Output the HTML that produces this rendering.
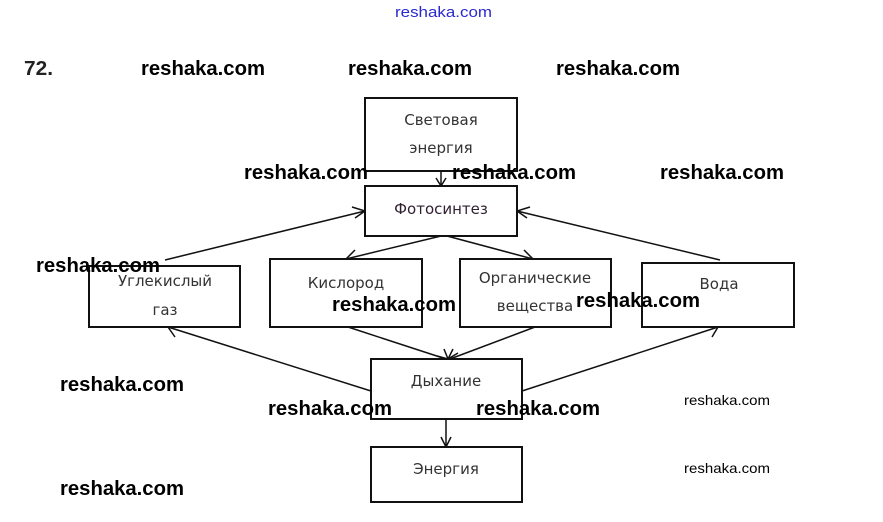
<!DOCTYPE html>
<html><head><meta charset="utf-8"><style>
html,body{margin:0;padding:0;background:#fff;}
svg{display:block;}
.w{font-family:"Liberation Sans",sans-serif;font-weight:bold;font-size:20px;fill:#000;}
.ws{font-family:"Liberation Sans",sans-serif;font-size:14px;fill:#000;}
.l{font-family:"DejaVu Sans","Liberation Sans",sans-serif;font-size:15px;fill:#333;text-anchor:middle;}
rect{fill:#fff;stroke:#111;stroke-width:2;}
line,polyline{stroke:#111;stroke-width:1.5;fill:none;}
</style></head><body>
<svg width="883" height="522" viewBox="0 0 883 522" xmlns="http://www.w3.org/2000/svg">
<text x="395" y="17" style="font-family:'Liberation Sans',sans-serif;font-size:15px;fill:#2a2ad0" textLength="97" lengthAdjust="spacingAndGlyphs">reshaka.com</text>
<text x="24" y="75" class="w" textLength="29" lengthAdjust="spacingAndGlyphs" style="fill:#222">72.</text>
<text x="141" y="75" class="w" textLength="124" lengthAdjust="spacingAndGlyphs">reshaka.com</text>
<text x="348" y="75" class="w" textLength="124" lengthAdjust="spacingAndGlyphs">reshaka.com</text>
<text x="556" y="75" class="w" textLength="124" lengthAdjust="spacingAndGlyphs">reshaka.com</text>

<!-- lines -->
<line x1="441" y1="171" x2="441" y2="186"/><polyline points="436,178 441,186 446,178"/>
<line x1="165" y1="260" x2="365" y2="211"/><polyline points="352,207 365,211 355,218"/>
<line x1="720" y1="260" x2="517" y2="211"/><polyline points="527,218 517,211 530,207"/>
<line x1="441" y1="236" x2="346" y2="259"/><polyline points="355,250 346,259 358,260"/>
<line x1="447" y1="236" x2="533" y2="259"/><polyline points="521,260 533,259 524,250"/>
<line x1="348" y1="327" x2="446" y2="359"/>
<line x1="535" y1="327" x2="450" y2="359"/><polyline points="437,356 448,359 444,349"/><polyline points="458,353 448,359 453,349"/>
<line x1="371" y1="391" x2="168" y2="327"/><polyline points="175,337 168,327 180,327"/>
<line x1="522" y1="391" x2="718" y2="327"/><polyline points="705,327 718,327 712,337"/>
<line x1="446" y1="419" x2="446" y2="447"/><polyline points="441,437 446,447 451,437"/>

<rect x="365" y="98" width="152" height="73"/>
<text x="441" y="125" class="l">Световая</text>
<text x="441" y="153" class="l">энергия</text>
<rect x="365" y="186" width="152" height="50"/>
<text x="441" y="214" class="l" style="fill:#302030">Фотосинтез</text>
<rect x="89" y="266" width="151" height="61"/>
<text x="165" y="286" class="l">Углекислый</text>
<text x="165" y="315" class="l">газ</text>
<rect x="270" y="259" width="152" height="68"/>
<text x="346" y="288" class="l">Кислород</text>
<rect x="460" y="259" width="151" height="68"/>
<text x="535" y="283" class="l">Органические</text>
<text x="535" y="311" class="l">вещества</text>
<rect x="642" y="263" width="152" height="64"/>
<text x="719" y="289" class="l">Вода</text>
<rect x="371" y="359" width="151" height="60"/>
<text x="446" y="386" class="l">Дыхание</text>
<rect x="371" y="447" width="151" height="55"/>
<text x="446" y="474" class="l">Энергия</text>

<text x="244" y="179" class="w" textLength="124" lengthAdjust="spacingAndGlyphs">reshaka.com</text>
<text x="452" y="179" class="w" textLength="124" lengthAdjust="spacingAndGlyphs">reshaka.com</text>
<text x="660" y="179" class="w" textLength="124" lengthAdjust="spacingAndGlyphs">reshaka.com</text>
<text x="36" y="272" class="w" textLength="124" lengthAdjust="spacingAndGlyphs">reshaka.com</text>
<text x="332" y="311" class="w" textLength="124" lengthAdjust="spacingAndGlyphs">reshaka.com</text>
<text x="576" y="307" class="w" textLength="124" lengthAdjust="spacingAndGlyphs">reshaka.com</text>
<text x="60" y="391" class="w" textLength="124" lengthAdjust="spacingAndGlyphs">reshaka.com</text>
<text x="268" y="415" class="w" textLength="124" lengthAdjust="spacingAndGlyphs">reshaka.com</text>
<text x="476" y="415" class="w" textLength="124" lengthAdjust="spacingAndGlyphs">reshaka.com</text>
<text x="60" y="495" class="w" textLength="124" lengthAdjust="spacingAndGlyphs">reshaka.com</text>
<text x="684" y="405" class="ws" textLength="86" lengthAdjust="spacingAndGlyphs">reshaka.com</text>
<text x="684" y="473" class="ws" textLength="86" lengthAdjust="spacingAndGlyphs">reshaka.com</text>
</svg>
</body></html>
